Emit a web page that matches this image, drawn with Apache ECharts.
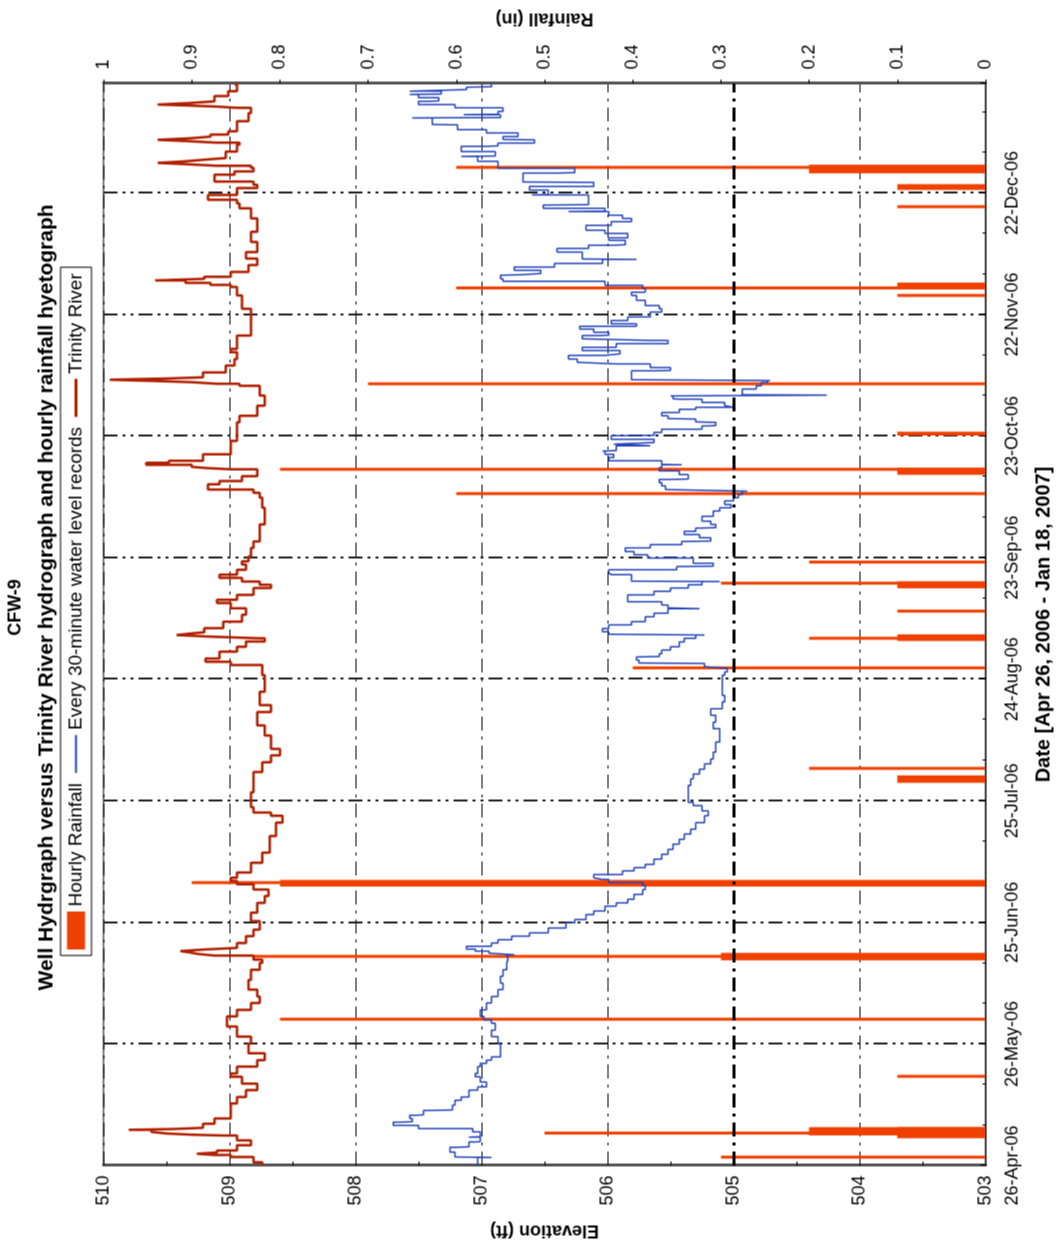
<!DOCTYPE html>
<html>
<head>
<meta charset="utf-8">
<title>CFW-9 Well Hydrograph</title>
<script src="https://cdn.jsdelivr.net/npm/echarts@6/dist/echarts.min.js"></script>
<style>
  html, body { margin: 0; padding: 0; background: #fff; overflow: hidden; }
  body { width: 1062px; height: 1247px; position: relative; }
  /* the chart is laid out landscape and turned a quarter turn counter-clockwise */
  #chart {
    position: absolute;
    left: -92.5px; top: 92.5px;
    width: 1247px; height: 1062px;
    transform: rotate(-90deg);
    transform-origin: 50% 50%;
  }
</style>
</head>
<body>
<div id="chart"></div>
<script>
// Days counted from 26-Apr-2006 (day 0) to 18-Jan-2007 (day 267)
const dateTicks = ['26-Apr-06', '26-May-06', '25-Jun-06', '25-Jul-06', '24-Aug-06',
                   '23-Sep-06', '23-Oct-06', '22-Nov-06', '22-Dec-06'];

// Trinity River stage, [day, elevation ft]
const riverStage = [
  [0,508.74],[0.8,508.81],[2.1,508.99],[2.6,509.12],[2.9,509.26],[3.2,509.10],[3.7,508.94],[5.0,508.83],
  [6.2,508.94],[7.4,509.05],[7.6,509.30],[7.9,509.50],[8.3,509.62],[8.8,509.80],[9.0,509.45],[9.3,509.21],
  [10.3,509.12],[11.6,508.99],[15.3,508.94],
  [16.9,508.87],[18.6,508.78],[20.2,508.90],[21.9,508.99],[22.7,508.94],[24.4,508.78],[26.0,508.72],[27.7,508.85],
  [30.1,508.83],[31.8,508.94],[34.3,509.02],[36.8,508.94],[38.4,508.83],[40.1,508.76],[41.7,508.78],[43.4,508.85],
  [45.8,508.83],[48.3,508.76],[50.0,508.74],[50.8,508.81],[51.8,509.12],[52.2,509.25],[52.6,509.32],[52.9,509.39],
  [53.3,509.20],[53.7,508.94],[54.9,508.87],[56.6,508.81],[58.2,508.76],[60.3,508.83],[62.4,508.78],[64.8,508.72],
  [66.5,508.69],[68.1,508.81],[69.4,508.94],[70.2,508.99],[71.0,508.94],[72.3,508.83],[74.7,508.74],[77.2,508.68],
  [81.3,508.63],[84.6,508.58],[86.3,508.67],[87.1,508.81],[88.4,508.83],[89.6,508.83],[92.1,508.81],[95.4,508.81],
  [97.1,508.74],[99.5,508.67],[101.2,508.60],[102.8,508.67],[106.1,508.72],[108.6,508.78],[110.3,508.78],[111.9,508.67],
  [113.6,508.76],[116.9,508.72],[121.0,508.74],[122.7,508.74],[123.5,508.99],[124.3,509.19],[125.1,509.08],[126.8,508.94],
  [128.0,508.87],[129.3,508.72],[130.1,508.76],[130.5,509.15],[130.9,509.42],[131.3,509.30],[131.6,509.20],[132.6,509.05],
  [134.2,508.90],[135.9,508.87],[137.5,508.99],[138.8,509.10],[139.6,508.94],[140.8,508.81],[142.5,508.67],[143.3,508.76],
  [144.1,508.90],[145.0,509.08],[145.8,508.94],[147.0,508.87],[148.3,508.90],[149.1,508.85],[150.3,508.83],[152.4,508.81],
  [154.0,508.76],[158.2,508.72],[162.3,508.74],[164.8,508.76],[166.0,508.81],[166.8,509.17],[168.1,509.08],[168.9,508.90],
  [170.1,508.78],[171.8,508.99],[172.1,509.18],[172.4,509.30],[172.9,509.66],[173.4,509.48],[173.9,509.21],[175.5,508.99],
  [178.8,508.94],[180.1,508.94],[183.4,508.92],[185.0,508.78],[187.5,508.72],[190.0,508.76],[192.4,508.92],[192.9,509.10],
  [193.3,509.30],[193.6,509.60],[193.9,509.95],[194.2,509.50],[194.5,509.21],[195.7,509.03],[197.4,508.96],[199.0,508.94],
  [200.7,508.99],[201.5,508.94],[204.8,508.83],[208.1,508.83],[211.4,508.90],[214.7,508.94],[216.8,508.99],[217.3,509.15],
  [217.8,509.35],[218.4,509.59],[218.8,509.20],[219.3,508.99],[220.5,508.85],[222.2,508.78],[223.8,508.87],[225.4,508.78],
  [227.9,508.83],[230.4,508.78],[233.7,508.83],[236.2,508.92],[237.4,508.94],[238.3,509.17],[239.5,508.94],[241.2,508.78],
  [242.0,508.81],[242.8,509.12],[244.5,508.96],[245.3,508.81],[246.2,508.83],[246.7,509.10],[247.1,509.35],[247.4,509.57],
  [247.8,509.35],[248.2,509.20],[248.6,509.03],[250.2,508.94],[251.9,508.92],[252.4,509.10],[252.8,509.35],[253.1,509.57],
  [253.5,509.30],[253.9,509.15],[254.4,509.01],[255.2,508.94],[257.7,508.85],[259.7,508.83],[261.0,508.94],[261.3,509.10],
  [261.6,509.35],[261.8,509.57],[262.2,509.30],[262.6,509.12],[263.9,509.01],[265.1,508.94],[266.8,508.96]
];

// CFW-9 water level, 30-minute records, [day, elevation ft]
const wellLevel = [
  [0,507.03],[2.0,506.92],[2.1,507.21],[3.3,507.25],[4.5,507.19],[4.6,507.10],[5.8,507.05],[5.9,507.01],
  [7.0,507.10],[7.1,507.01],[8.3,507.07],[9.1,507.50],[9.9,507.70],[10.7,507.64],[10.8,507.55],[11.6,507.57],
  [12.4,507.52],[12.5,507.46],[13.6,507.41],[13.7,507.23],[14.9,507.21],[16.1,507.16],[16.9,507.10],[18.6,507.03],
  [19.4,506.96],[20.6,507.01],[21.9,507.05],[22.7,507.03],[24.4,507.01],[25.2,506.96],[26.0,506.92],[26.8,506.85],
  [28.5,506.85],[30.0,506.87],[31.8,506.92],[33.4,506.89],[35.1,506.92],[35.9,506.98],[36.8,507.01],[38.4,506.96],
  [40.1,506.92],[41.7,506.87],[43.4,506.83],[45.0,506.85],[46.7,506.83],[48.3,506.80],[50.0,506.79],[50.8,506.80],
  [52.0,506.74],[52.4,506.94],[52.9,507.05],[53.4,507.12],[54.1,506.92],[54.9,506.87],[55.7,506.76],[56.6,506.62],
  [57.4,506.47],[58.6,506.33],[59.9,506.26],[60.7,506.17],[61.9,506.11],[62.8,506.02],[64.0,505.93],[64.8,505.84],
  [65.7,505.79],[66.9,505.72],[68.1,505.70],[69.1,505.72],[69.8,505.99],[70.6,506.04],[71.0,506.11],[71.8,505.88],
  [72.7,505.79],[73.5,505.70],[74.3,505.63],[75.6,505.57],[76.8,505.52],[78.0,505.48],[79.3,505.43],[80.5,505.39],
  [81.8,505.34],[83.0,505.30],[84.6,505.23],[86.3,505.20],[87.5,505.25],[88.8,505.32],[89.6,505.36],[92.1,505.36],
  [93.8,505.34],[95.4,505.32],[96.6,505.27],[97.8,505.23],[99.1,505.18],[100.3,505.16],[102.0,505.14],[104.5,505.11],
  [107.8,505.16],[109.4,505.14],[111.1,505.18],[112.7,505.09],[114.4,505.07],[116.0,505.09],[121.0,505.07],[121.8,505.05],
  [122.7,505.07],[123.1,505.23],[123.9,505.25],[124.0,505.75],[124.7,505.77],[125.5,505.75],[125.6,505.59],[126.3,505.57],
  [127.2,505.50],[128.0,505.43],[129.2,505.39],[130.1,505.30],[130.9,505.23],[131.1,505.99],[131.7,506.04],[132.5,505.99],
  [133.4,505.81],[134.2,505.70],[135.4,505.63],[136.3,505.52],[137.4,505.27],[137.6,505.52],[138.3,505.57],[139.1,505.84],
  [140.0,505.84],[140.8,505.63],[141.7,505.50],[142.5,505.36],[143.3,505.25],[144.1,505.11],[144.2,505.81],[145.8,505.97],
  [146.2,505.99],[147.0,505.45],[147.8,505.43],[147.9,505.16],[148.6,505.32],[149.9,505.68],[150.7,505.79],[151.5,505.86],
  [152.4,505.66],[153.2,505.41],[154.0,505.39],[154.1,505.18],[154.9,505.27],[155.7,505.39],[156.5,505.30],[157.3,505.25],
  [157.4,505.14],[158.2,505.18],[159.0,505.25],[160.2,505.16],[161.5,505.11],[162.3,505.02],[163.1,505.07],[164.0,505.00],
  [164.8,504.96],[165.6,504.93],[166.4,504.89],[166.8,505.54],[167.7,505.57],[168.5,505.59],[169.3,505.50],[169.4,505.36],
  [170.5,505.43],[171.4,505.59],[172.2,505.57],[172.9,505.41],[173.0,505.57],[173.9,505.99],[174.7,505.95],[175.5,506.02],
  [176.3,506.04],[176.4,505.93],[177.6,505.66],[178.0,505.95],[178.4,505.63],[179.2,505.97],[180.1,505.88],[180.2,505.63],
  [180.9,505.57],[181.7,505.25],[182.5,505.20],[182.6,505.14],[183.4,505.18],[183.5,505.30],[184.2,505.32],[184.3,505.52],
  [185.0,505.57],[185.8,505.43],[186.6,505.30],[187.1,505.00],[187.5,505.07],[188.3,505.25],[189.1,505.43],[189.2,505.48],
  [189.9,505.50],[190.1,504.26],[190.2,504.93],[190.7,504.93],[191.6,504.82],[192.4,504.78],[193.2,504.73],[193.7,504.71],
  [193.9,505.81],[194.9,505.81],[196.1,505.63],[196.2,505.50],[196.9,505.66],[197.8,505.93],[198.2,506.24],[199.0,506.31],
  [199.9,506.02],[200.3,505.90],[201.1,506.20],[201.9,505.93],[202.8,505.52],[203.6,505.66],[204.0,506.20],[204.8,506.06],
  [204.9,505.99],[205.6,506.11],[206.4,506.22],[207.1,505.77],[207.7,505.97],[208.5,505.84],[209.4,505.66],[210.6,505.57],
  [211.4,505.59],[212.2,505.70],[213.5,505.77],[214.7,505.81],[215.5,505.70],[216.4,505.72],[217.2,506.02],[218.2,506.83],
  [218.8,506.85],[219.7,506.83],[219.8,506.69],[220.1,506.53],[220.9,506.74],[221.7,506.42],[222.6,506.04],[223.6,505.77],
  [223.7,506.20],[224.6,506.20],[225.4,506.40],[226.3,506.15],[227.1,505.95],[227.2,505.86],[228.3,505.99],[228.9,505.84],
  [230.0,506.02],[230.8,506.17],[232.0,505.97],[232.9,505.81],[233.7,505.88],[234.5,505.99],[235.4,506.31],[235.5,506.02],
  [236.2,506.51],[237.0,506.47],[237.1,506.15],[238.3,506.15],[239.5,506.60],[239.6,506.47],[240.7,506.62],[241.6,506.11],
  [242.6,506.11],[242.7,506.67],[243.6,506.67],[244.9,506.38],[245.0,506.26],[246.1,506.87],[246.9,506.87],[247.8,507.03],
  [249.0,507.16],[249.1,506.89],[250.2,507.16],[251.5,506.96],[251.6,506.87],[252.3,506.58],[253.1,506.62],[253.2,506.83],
  [253.9,506.71],[254.8,506.96],[255.6,507.19],[256.8,507.25],[256.9,507.39],[258.5,507.55],[258.6,506.85],[259.3,507.14],
  [259.4,506.87],[260.1,506.83],[261.0,507.21],[261.8,507.50],[262.6,507.43],[262.7,507.34],[263.5,507.50],[264.3,507.57],
  [264.4,507.32],[265.1,507.57],[265.5,507.12],[266.1,507.10],[266.2,506.92],[266.8,506.92]
];

// Hourly rainfall bursts: [first day, last day, inches]
const hourlyRain = [
  [2.06,2.06,0.3],[7.1,9.1,0.1],[7.8,9.1,0.2],[8.0,8.0,0.5],[22.0,22.0,0.1],[36.1,36.1,0.8],
  [51.0,52.1,0.3],[51.6,51.6,0.83],[69.2,70.1,0.8],[69.8,69.8,0.9],[94.8,95.9,0.1],[98.0,98.0,0.2],
  [122.8,122.8,0.4],[129.8,130.7,0.1],[130.1,130.1,0.2],[136.8,136.8,0.1],[142.8,143.8,0.1],[143.7,143.7,0.3],
  [148.9,148.9,0.2],[165.8,165.8,0.6],[170.8,171.8,0.1],[171.8,171.8,0.8],[180.5,180.7,0.1],[192.9,192.9,0.7],
  [214.7,214.7,0.1],[216.55,216.55,0.6],[216.6,217.5,0.1],[236.6,236.6,0.1],[241.1,241.8,0.1],
  [245.2,246.6,0.2],[246.3,246.3,0.6]
];

const FONT = "'Liberation Sans', Arial, Helvetica, sans-serif";
const RAIN_COLOR = '#F04000';
const RIVER_COLOR = '#B02000';
const WELL_COLOR = '#2444B8';

const chart = echarts.init(document.getElementById('chart'), null, { renderer: 'canvas' });

chart.setOption({
  backgroundColor: '#fff',
  animation: false,
  textStyle: { fontFamily: FONT, color: '#000' },
  graphic: [
    { type: 'text', x: 640, y: 15, z: 10,
      style: { text: 'CFW-9', font: 'bold 18px ' + FONT, fill: '#000',
               textAlign: 'center', textVerticalAlign: 'middle', align: 'center', verticalAlign: 'middle' } },
    { type: 'text', x: 650, y: 46, z: 10,
      style: { text: 'Well Hydrgraph versus Trinity River hydrograph and hourly rainfall hyetograph',
               font: 'bold 21px ' + FONT, fill: '#000',
               textAlign: 'center', textVerticalAlign: 'middle', align: 'center', verticalAlign: 'middle' } }
  ],
  legend: {
    left: 292, top: 60,
    orient: 'horizontal',
    padding: [6, 6],
    itemGap: 10,
    itemWidth: 38, itemHeight: 18,
    borderColor: '#000', borderWidth: 1,
    textStyle: { fontFamily: FONT, fontSize: 19, color: '#000' },
    data: [
      { name: 'Hourly Rainfall', icon: 'rect' },
      { name: 'Every 30-minute water level records', icon: 'path://M0,0H40V2H0Z' },
      { name: 'Trinity River', icon: 'path://M0,0H40V3H0Z' }
    ]
  },
  grid: { left: 82, right: 83, top: 103, bottom: 77, show: true, borderColor: '#000', borderWidth: 1, backgroundColor: 'transparent' },
  xAxis: {
    type: 'value', min: 0, max: 267, interval: 30, position: 'bottom',
    name: 'Date [Apr 26, 2006 - Jan 18, 2007]', nameLocation: 'middle', nameGap: 48,
    nameTextStyle: { fontFamily: FONT, fontSize: 20, fontWeight: 'bold', color: '#000' },
    axisLine: { show: true, lineStyle: { color: '#000', width: 1 } },
    axisTick: { show: true, inside: true, length: 5, lineStyle: { color: '#000' } },
    minorTick: { show: true, splitNumber: 3, length: 3, lineStyle: { color: '#000' } },
    axisLabel: { fontSize: 18, margin: 18, color: '#000', showMaxLabel: false,
                 formatter: v => dateTicks[Math.round(v / 30)] || '' },
    splitLine: { show: true, lineStyle: { color: '#222', width: 2, type: [14, 5, 3, 5, 3, 5] } }
  },
  yAxis: [
    {
      type: 'value', min: 503, max: 510, interval: 1, position: 'left',
      name: 'Elevation (ft)', nameLocation: 'middle', nameGap: 56,
      nameTextStyle: { fontFamily: FONT, fontSize: 18, fontWeight: 'bold', color: '#000' },
      axisLine: { show: true, lineStyle: { color: '#555', width: 3 } },
      axisTick: { show: true, inside: true, length: 6, lineStyle: { color: '#000' } },
      minorTick: { show: true, splitNumber: 2, length: 4, lineStyle: { color: '#000' } },
      axisLabel: { fontSize: 18, margin: 10, color: '#000' },
      splitLine: { show: true, lineStyle: { color: '#000', width: 1.2, type: [14, 6, 3, 6] } }
    },
    {
      type: 'value', min: 0, max: 1, interval: 0.1, position: 'right',
      name: 'Rainfall (in)', nameLocation: 'middle', nameGap: 56,
      nameTextStyle: { fontFamily: FONT, fontSize: 18, fontWeight: 'bold', color: '#000' },
      axisLine: { show: true, lineStyle: { color: '#555', width: 3 } },
      axisTick: { show: true, inside: false, length: 4, lineStyle: { color: '#000' } },
      axisLabel: { fontSize: 18, margin: 14, color: '#000',
                   formatter: v => String(Math.round(v * 10) / 10) },
      splitLine: { show: false }
    }
  ],
  series: [
    {
      name: 'Hourly Rainfall',
      type: 'custom',
      xAxisIndex: 0, yAxisIndex: 1,
      data: hourlyRain,
      encode: { x: [0, 1], y: 2 },
      itemStyle: { color: RAIN_COLOR },
      z: 3,
      renderItem: function (params, api) {
        const base = api.coord([api.value(0), 0]);
        const top = api.coord([api.value(1), api.value(2)]);
        return {
          type: 'rect',
          shape: { x: base[0] - 1.5, y: top[1], width: top[0] - base[0] + 3, height: base[1] - top[1] },
          style: { fill: RAIN_COLOR }
        };
      }
    },
    {
      name: 'Every 30-minute water level records',
      type: 'line',
      xAxisIndex: 0, yAxisIndex: 0,
      data: wellLevel,
      step: 'end',
      showSymbol: false, symbol: 'none',
      lineStyle: { color: WELL_COLOR, width: 1.5 },
      itemStyle: { color: WELL_COLOR },
      z: 4,
      markLine: {
        silent: true, symbol: 'none', label: { show: false },
        lineStyle: { color: '#000', width: 3, type: [14, 6, 3, 6] },
        data: [{ yAxis: 505 }]
      }
    },
    {
      name: 'Trinity River',
      type: 'line',
      xAxisIndex: 0, yAxisIndex: 0,
      data: riverStage,
      step: 'end',
      showSymbol: false, symbol: 'none',
      lineStyle: { color: RIVER_COLOR, width: 2.5 },
      itemStyle: { color: RIVER_COLOR },
      z: 5
    }
  ]
});
</script>
</body>
</html>
